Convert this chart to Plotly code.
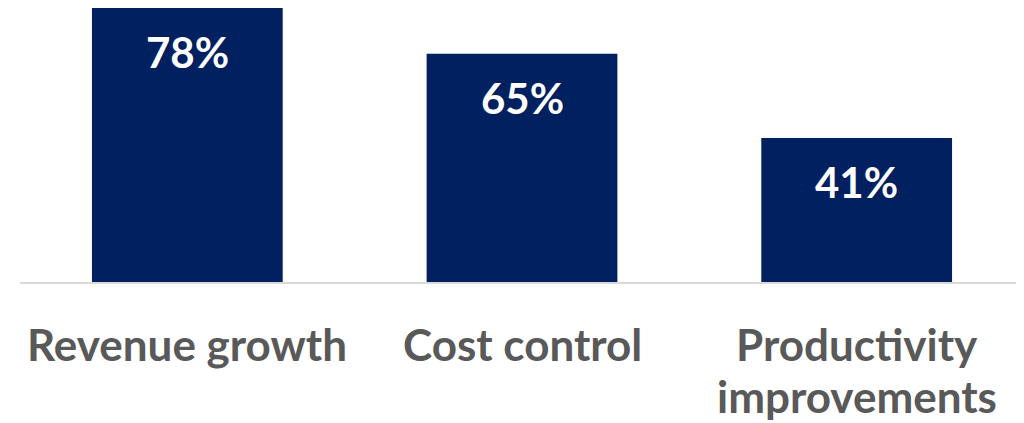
import plotly.graph_objects as go

categories = ["Revenue growth", "Cost control", "Productivity\nimprovements"]
values = [78, 65, 41]
value_labels = ["78%", "65%", "41%"]

BAR_COLOR = "#002060"
TEXT_GRAY = "#595959"
FONT = "Lato"

fig = go.Figure()
fig.add_trace(go.Bar(
    x=list(range(len(categories))),
    y=values,
    marker=dict(color=BAR_COLOR, line=dict(width=0)),
    hoverinfo="skip",
))

annotations = []
for i, (v, lab) in enumerate(zip(values, value_labels)):
    annotations.append(dict(
        x=i, y=v, xref="x", yref="y", text="<b>" + lab + "</b>",
        showarrow=False, yanchor="middle", yshift=-44,
        font=dict(family=FONT, size=42, color="white"),
    ))
for i, cat in enumerate(categories):
    for j, line in enumerate(cat.split("\n")):
        annotations.append(dict(
            x=i, y=0, xref="x", yref="paper", text="<b>" + line + "</b>",
            showarrow=False, yanchor="middle", yshift=-62 - 52 * j,
            font=dict(family=FONT, size=44, color=TEXT_GRAY),
        ))

fig.update_layout(
    width=1016, height=415,
    margin=dict(l=12, r=0, t=0, b=141),
    paper_bgcolor="white", plot_bgcolor="white",
    bargap=0.43,
    showlegend=False,
    annotations=annotations,
    xaxis=dict(range=[-0.5, 2.5], showticklabels=False, ticks="", showgrid=False,
               zeroline=False, showline=True, linecolor="#d9d9d9", linewidth=2, fixedrange=True),
    yaxis=dict(range=[0, 78], visible=False, fixedrange=True),
)

fig.write_html("out.html", config={"displayModeBar": False})
